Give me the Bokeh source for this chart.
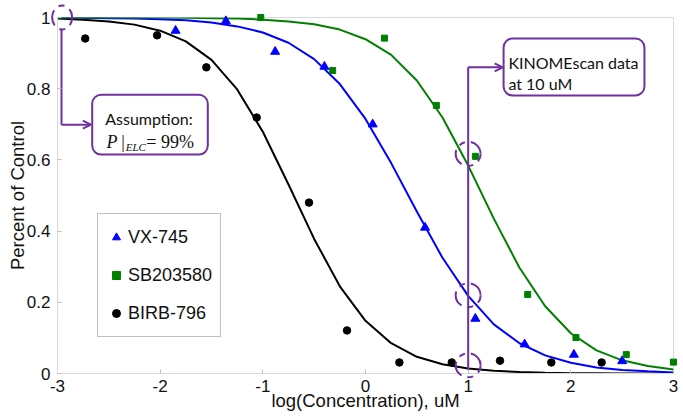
import numpy as np
from bokeh.plotting import figure
from bokeh.models import Label, Arrow, OpenHead, BoxAnnotation, FixedTicker, Range1d
from bokeh.embed import file_html
from bokeh.resources import INLINE

# ---------------- data ----------------
x_ticks = [-3, -2, -1, 0, 1, 2, 3]
x_tick_labels = ["-3", "-2", "-1", "0", "1", "2", "3"]
y_ticks = [0, 0.2, 0.4, 0.6, 0.8, 1]
y_tick_labels = ["0", "0.2", "0.4", "0.6", "0.8", "1"]

series_names = ["VX-745", "SB203580", "BIRB-796"]

vx_x = [-1.85, -1.36, -0.88, -0.40, 0.07, 0.58, 1.07, 1.55, 2.03, 2.50]
vx_y = [0.963, 0.990, 0.904, 0.862, 0.700, 0.410, 0.154, 0.082, 0.053, 0.035]

sb_x = [-1.02, -0.32, 0.185, 0.69, 1.07, 1.58, 2.05, 2.54, 3.00]
sb_y = [1.000, 0.851, 0.942, 0.753, 0.610, 0.222, 0.101, 0.053, 0.032]

birb_x = [-2.73, -2.03, -1.55, -1.06, -0.55, -0.18, 0.33, 0.84, 1.31, 1.81, 2.30]
birb_y = [0.941, 0.950, 0.860, 0.719, 0.480, 0.121, 0.031, 0.031, 0.036, 0.031, 0.031]

# fitted curves
curve_x = [-3.0, -2.75, -2.5, -2.25, -2.0, -1.75, -1.5, -1.25, -1.0, -0.75, -0.5, -0.25,
           0.0, 0.25, 0.5, 0.75, 1.0, 1.25, 1.5, 1.75, 2.0, 2.25, 2.5, 2.75, 3.0]
vx_curve = [1.000, 0.999, 0.998, 0.997, 0.995, 0.992, 0.986, 0.975, 0.958, 0.929, 0.883, 0.813,
            0.715, 0.591, 0.455, 0.325, 0.218, 0.138, 0.085, 0.051, 0.030, 0.017, 0.010, 0.006, 0.003]
sb_curve = [1.000, 1.000, 1.000, 1.000, 1.000, 0.999, 0.998, 0.997, 0.994, 0.989, 0.981, 0.966,
            0.939, 0.895, 0.823, 0.719, 0.584, 0.435, 0.297, 0.189, 0.113, 0.065, 0.037, 0.021, 0.011]
birb_curve = [0.997, 0.994, 0.989, 0.980, 0.963, 0.933, 0.881, 0.798, 0.679, 0.531, 0.378, 0.245,
              0.148, 0.085, 0.047, 0.026, 0.014, 0.008, 0.004, 0.002, 0.001, 0.001, 0.000, 0.000, 0.000]

# highlighted points (dashed circles)
circle_x = [-2.955, 1.0, 1.0, 1.0]
circle_y = [1.0, 0.617, 0.22, 0.023]
circle_w = [20, 25, 25, 25]
circle_h = [24, 24, 24, 24]

PURPLE = "#7030a0"
BLUE = "#0000ff"
GREEN = "#008000"
BLACK = "#000000"
SANS = "Liberation Sans"
TXT = "#111111"

p = figure(width=683, height=419, output_backend="svg", toolbar_location=None,
           x_range=Range1d(-3, 3), y_range=Range1d(0, 1),
           min_border_left=57, min_border_right=10, min_border_top=17, min_border_bottom=46,
           background_fill_color="white", border_fill_color="white")
p.grid.visible = False
p.outline_line_color = "#d9d9d9"

p.xaxis.ticker = FixedTicker(ticks=x_ticks)
p.yaxis.ticker = FixedTicker(ticks=y_ticks)
p.xaxis.major_label_overrides = dict(zip(x_ticks, x_tick_labels))
p.yaxis.major_label_overrides = dict(zip(y_ticks, y_tick_labels))
for ax in (p.xaxis[0], p.yaxis[0]):
    ax.axis_line_color = "#d9d9d9"
    ax.major_tick_in = 4
    ax.major_tick_out = 0
    ax.major_tick_line_color = "#bfbfbf"
    ax.minor_tick_line_color = None
    ax.major_label_text_font = SANS
    ax.major_label_text_font_size = "17px"
    ax.major_label_text_color = TXT
    ax.axis_label_text_font = SANS
    ax.axis_label_text_font_size = "18.5px"
    ax.axis_label_text_font_style = "normal"
    ax.axis_label_text_color = TXT
p.xaxis.major_label_standoff = 6
p.yaxis.major_label_standoff = 7
p.xaxis.axis_label = "log(Concentration), uM"
p.yaxis.axis_label = "Percent of Control"
p.xaxis.axis_label_standoff = -5
p.yaxis.axis_label_standoff = -4

# curves
p.line(curve_x, birb_curve, line_color=BLACK, line_width=2)
p.line(curve_x, vx_curve, line_color=BLUE, line_width=2)
p.line(curve_x, sb_curve, line_color=GREEN, line_width=2)

# markers
r1 = p.scatter(vx_x, vx_y, marker="triangle", size=9, fill_color=BLUE, line_color=BLUE,
               legend_label=series_names[0])
r2 = p.scatter(sb_x, sb_y, marker="square", size=6, fill_color=GREEN, line_color=GREEN,
               legend_label=series_names[1])
r3 = p.scatter(birb_x, birb_y, marker="circle", size=7.5, fill_color=BLACK, line_color=BLACK,
               legend_label=series_names[2])
for r in (r1, r2, r3):
    r.level = "overlay"

lg = p.legend[0]
lg.location = (40, 36)
lg.border_line_color = "#808080"
lg.border_line_width = 1
lg.background_fill_color = "white"
lg.background_fill_alpha = 1
lg.label_text_font = SANS
lg.label_text_font_size = "18px"
lg.label_text_color = TXT
lg.padding = 8
lg.spacing = 8
lg.glyph_width = 20
lg.glyph_height = 30
lg.label_height = 30
lg.label_standoff = 2
lg.margin = 0

# dashed purple circles
ell = p.ellipse(circle_x, circle_y, width=circle_w, height=circle_h,
                width_units="screen", height_units="screen",
                fill_color=None, line_color=PURPLE, line_width=2,
                line_dash="16 6 6 6", line_dash_offset=8)
ell.level = "overlay"

# annotation connectors
p.line([1.0, 1.0], [0.01, 0.860], line_color=PURPLE, line_width=2)
p.add_layout(Arrow(x_start=1.0, y_start=0.860, x_end=1.336, y_end=0.860,
                   line_color=PURPLE, line_width=2,
                   end=OpenHead(size=8, line_color=PURPLE, line_width=2)))
p.line([-2.961, -2.961], [0.968, 0.699], line_color=PURPLE, line_width=2)
p.add_layout(Arrow(x_start=-2.961, y_start=0.699, x_end=-2.675, y_end=0.699,
                   line_color=PURPLE, line_width=2,
                   end=OpenHead(size=8, line_color=PURPLE, line_width=2)))

# boxes
p.add_layout(BoxAnnotation(left=1.345, right=2.717, top=0.941, bottom=0.781,
                           fill_color="white", fill_alpha=1, line_color=PURPLE,
                           line_width=2, line_alpha=1, border_radius=9))
p.add_layout(BoxAnnotation(left=-2.662, right=-1.536, top=0.783, bottom=0.615,
                           fill_color="white", fill_alpha=1, line_color=PURPLE,
                           line_width=2, line_alpha=1, border_radius=9))

FONT2 = "Lato"
p.add_layout(Label(x=1.392, y=0.874, text="KINOMEscan data", text_font=FONT2,
                   text_font_size="16px", text_color=TXT,
                   text_align="left", text_baseline="alphabetic"))
p.add_layout(Label(x=1.392, y=0.815, text="at 10 uM", text_font=FONT2,
                   text_font_size="16px", text_color=TXT,
                   text_align="left", text_baseline="alphabetic"))
p.add_layout(Label(x=-2.109, y=0.715, text="Assumption:", text_font=FONT2,
                   text_font_size="16px", text_color=TXT,
                   text_align="center", text_baseline="alphabetic"))
SERIF = "Liberation Serif"
p.add_layout(Label(x=-2.523, y=0.649, text="P", text_font=SERIF, text_font_style="italic",
                   text_font_size="18px", text_color=TXT,
                   text_align="left", text_baseline="alphabetic"))
p.add_layout(Label(x=-2.380, y=0.649, text="|", text_font=SERIF,
                   text_font_size="18px", text_color=TXT,
                   text_align="left", text_baseline="alphabetic"))
p.add_layout(Label(x=-2.335, y=0.635, text="ELC", text_font=SERIF, text_font_style="italic",
                   text_font_size="11px", text_color=TXT,
                   text_align="left", text_baseline="alphabetic"))
p.add_layout(Label(x=-2.135, y=0.649, text="= 99%", text_font=SERIF,
                   text_font_size="18px", text_color=TXT,
                   text_align="left", text_baseline="alphabetic"))

open("out.html", "w").write(file_html(p, INLINE))
